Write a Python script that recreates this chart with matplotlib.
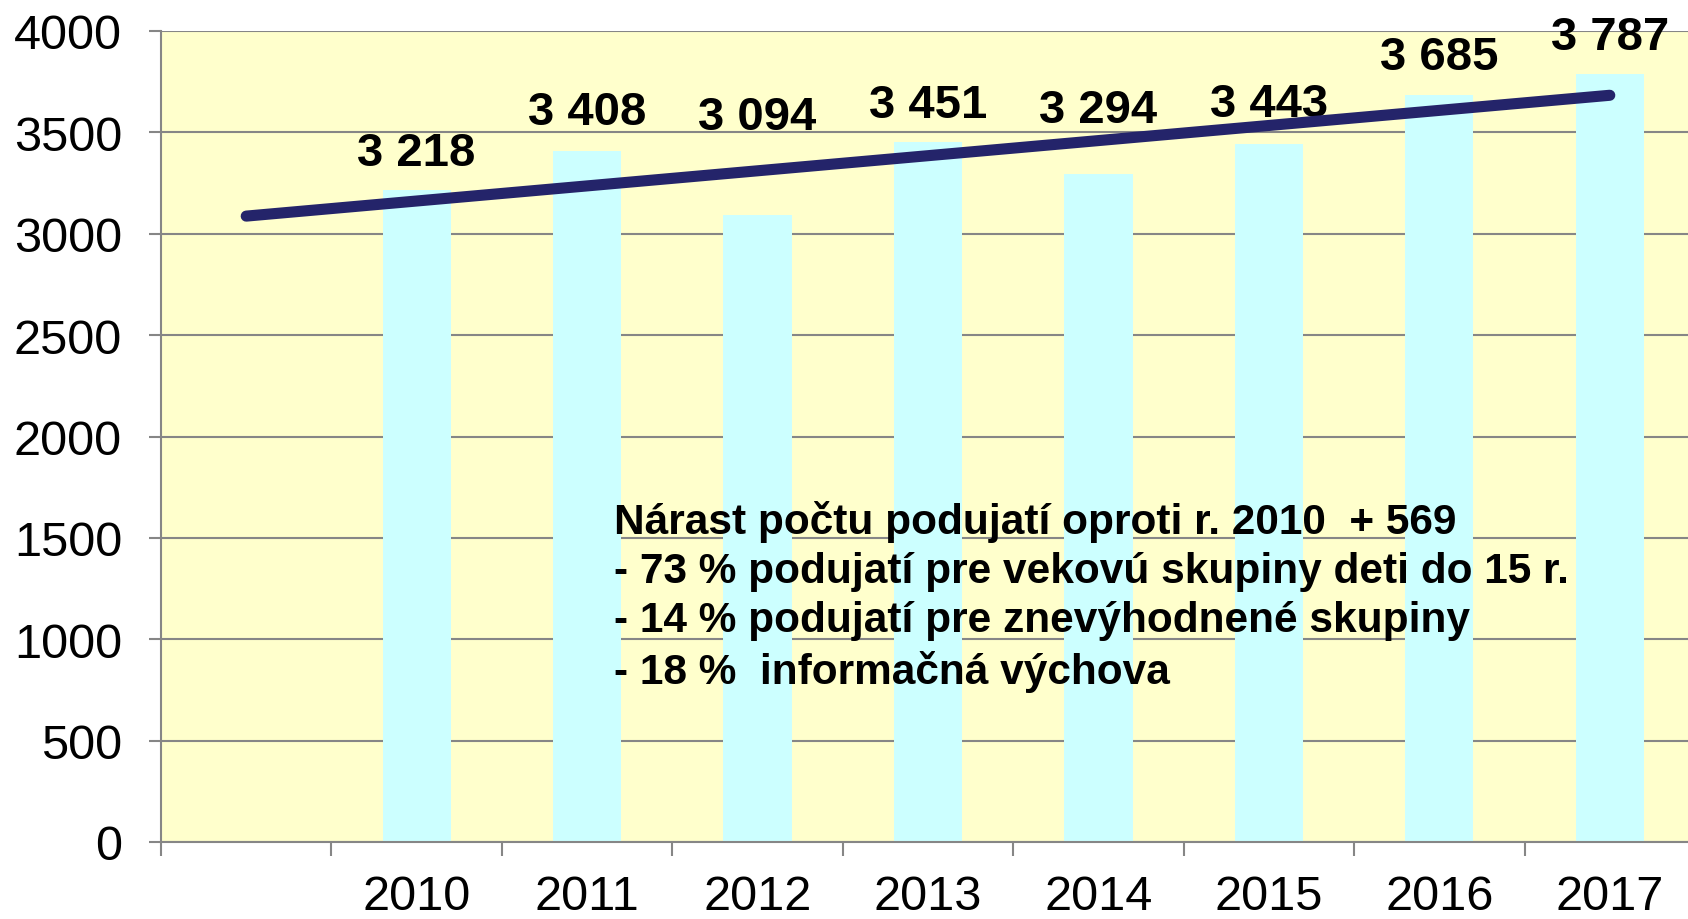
import matplotlib
matplotlib.use("Agg")
import matplotlib.pyplot as plt
import numpy as np

# ---- data ----
categories = ["", "2010", "2011", "2012", "2013", "2014", "2015", "2016", "2017"]
values = [None, 3218, 3408, 3094, 3451, 3294, 3443, 3685, 3787]
value_labels = ["", "3 218", "3 408", "3 094", "3 451", "3 294", "3 443", "3 685", "3 787"]
label_y = [None, 3400, 3600, 3575, 3635, 3612, 3640, 3873, 3968]
trend_x = [0, 8]
trend_y = [3087, 3683]
yticks = [0, 500, 1000, 1500, 2000, 2500, 3000, 3500, 4000]
note_lines = [
    "Nárast počtu podujatí oproti r. 2010  + 569",
    "- 73 % podujatí pre vekovú skupiny deti do 15 r.",
    "- 14 % podujatí pre znevýhodnené skupiny",
    "- 18 %  informačná výchova",
]

plt.rcParams['font.family'] = ['Liberation Sans', 'DejaVu Sans']

fig = plt.figure(figsize=(16.88, 9.2), dpi=100)
ax = fig.add_axes([161/1688, 77/920, 1534/1688, 811/920])
ax.set_facecolor("#FFFFCC")

x = np.arange(len(categories))
bx = [i for i, v in zip(x, values) if v is not None]
bv = [v for v in values if v is not None]
ax.bar(bx, bv, width=0.40, color="#CCFFFF", zorder=2)

ax.set_ylim(0, 4000)
ax.set_xlim(-0.5, 8.5)
ax.set_yticks(yticks)
ax.yaxis.grid(True, color="#868686", linewidth=1.5, zorder=1)
ax.set_axisbelow(True)

ax.set_xticks(x)
ax.set_xticklabels(categories, fontsize=35)
ax.set_xticks(np.arange(-0.5, 9.0, 1.0), minor=True)
ax.tick_params(axis='x', which='major', length=0, pad=23)
ax.tick_params(axis='x', which='minor', length=10, width=1.5, color="#868686", direction='out')
ax.tick_params(axis='y', length=9, width=1.5, color="#868686", direction='out', labelsize=35, pad=19)

for s in ["top", "right"]:
    ax.spines[s].set_visible(False)
for s in ["left", "bottom"]:
    ax.spines[s].set_color("#868686")
    ax.spines[s].set_linewidth(1.5)

for i, (lab, ly) in enumerate(zip(value_labels, label_y)):
    if ly is None:
        continue
    ax.text(i, ly, lab, ha='center', va='center', fontsize=34, fontweight='bold',
            color='black', zorder=4)

ax.plot(trend_x, trend_y, color="#24246A", linewidth=8, solid_capstyle='round', zorder=5)

ax.text(614/1688, 1 - 597/920, "\n".join(note_lines), transform=fig.transFigure,
        ha='left', va='center', fontsize=30.5, fontweight='bold', linespacing=1.30, zorder=6)

fig.savefig("out.png", dpi=100)
